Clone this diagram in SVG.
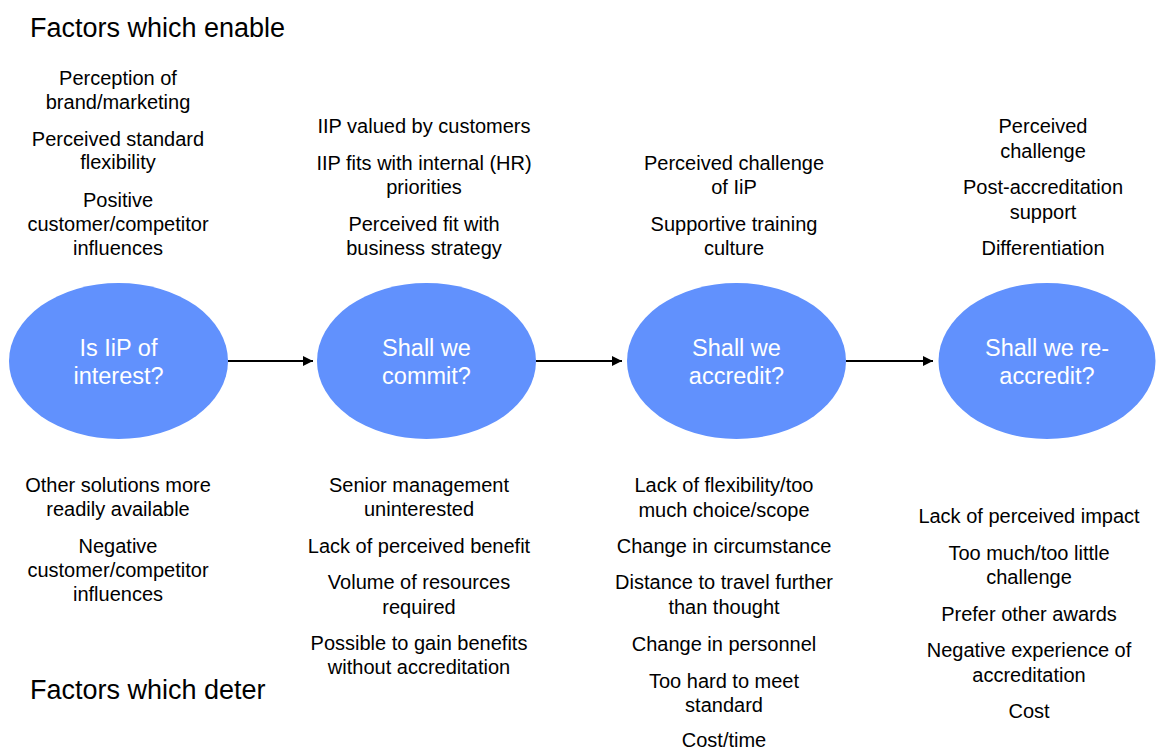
<svg xmlns="http://www.w3.org/2000/svg" width="1156" height="749" viewBox="0 0 1156 749">
<defs>
<style>
.t{font-family:"Liberation Sans",Arial,sans-serif;font-size:20px;fill:#000;text-anchor:middle}
.h{font-family:"Liberation Sans",Arial,sans-serif;font-size:27px;fill:#000}
.n{font-family:"Liberation Sans",Arial,sans-serif;font-size:23.5px;fill:#fff;text-anchor:middle}
.e{fill:#6191FD}
.c{stroke:#000;stroke-width:2;fill:none;marker-end:url(#ah)}
</style>
<marker id="ah" viewBox="0 0 10 10" refX="10" refY="5" markerWidth="5" markerHeight="5" orient="auto" markerUnits="strokeWidth">
<path d="M0,0 L10,5 L0,10 Z" fill="#000"/>
</marker>
</defs>
<rect width="1156" height="749" fill="#fff"/>
<text class="h" x="30" y="37">Factors which enable</text>
<text class="h" x="30" y="699">Factors which deter</text>

<g id="connectors">
<line class="c" x1="228" y1="361" x2="313" y2="361"/>
<line class="c" x1="536" y1="361" x2="622" y2="361"/>
<line class="c" x1="846" y1="361" x2="933" y2="361"/>
</g>

<g id="n1"><ellipse class="e" cx="118.5" cy="361" rx="109.5" ry="78"/>
<text class="n" x="118.5" y="356">Is IiP of</text><text class="n" x="118.5" y="384">interest?</text></g>
<g id="n2"><ellipse class="e" cx="426.5" cy="361" rx="109.5" ry="78"/>
<text class="n" x="426.5" y="356">Shall we</text><text class="n" x="426.5" y="384">commit?</text></g>
<g id="n3"><ellipse class="e" cx="736.5" cy="361" rx="109.5" ry="78"/>
<text class="n" x="736.5" y="356">Shall we</text><text class="n" x="736.5" y="384">accredit?</text></g>
<g id="n4"><ellipse class="e" cx="1047" cy="361" rx="108.5" ry="78"/>
<text class="n" x="1047" y="356">Shall we re-</text><text class="n" x="1047" y="384">accredit?</text></g>

<g id="enable1">
<text class="t" x="118" y="85">Perception of</text>
<text class="t" x="118" y="109">brand/marketing</text>
<text class="t" x="118" y="146">Perceived standard</text>
<text class="t" x="118" y="169">flexibility</text>
<text class="t" x="118" y="207">Positive</text>
<text class="t" x="118" y="231">customer/competitor</text>
<text class="t" x="118" y="255">influences</text>
</g>
<g id="enable2">
<text class="t" x="424" y="133">IIP valued by customers</text>
<text class="t" x="424" y="170">IIP fits with internal (HR)</text>
<text class="t" x="424" y="194">priorities</text>
<text class="t" x="424" y="231">Perceived fit with</text>
<text class="t" x="424" y="255">business strategy</text>
</g>
<g id="enable3">
<text class="t" x="734" y="170">Perceived challenge</text>
<text class="t" x="734" y="194">of IiP</text>
<text class="t" x="734" y="231">Supportive training</text>
<text class="t" x="734" y="255">culture</text>
</g>
<g id="enable4">
<text class="t" x="1043" y="133">Perceived</text>
<text class="t" x="1043" y="158">challenge</text>
<text class="t" x="1043" y="194">Post-accreditation</text>
<text class="t" x="1043" y="219">support</text>
<text class="t" x="1043" y="255">Differentiation</text>
</g>

<g id="deter1">
<text class="t" x="118" y="492">Other solutions more</text>
<text class="t" x="118" y="516">readily available</text>
<text class="t" x="118" y="553">Negative</text>
<text class="t" x="118" y="577">customer/competitor</text>
<text class="t" x="118" y="601">influences</text>
</g>
<g id="deter2">
<text class="t" x="419" y="492">Senior management</text>
<text class="t" x="419" y="516">uninterested</text>
<text class="t" x="419" y="553">Lack of perceived benefit</text>
<text class="t" x="419" y="589">Volume of resources</text>
<text class="t" x="419" y="614">required</text>
<text class="t" x="419" y="650">Possible to gain benefits</text>
<text class="t" x="419" y="674">without accreditation</text>
</g>
<g id="deter3">
<text class="t" x="724" y="492">Lack of flexibility/too</text>
<text class="t" x="724" y="517">much choice/scope</text>
<text class="t" x="724" y="553">Change in circumstance</text>
<text class="t" x="724" y="589">Distance to travel further</text>
<text class="t" x="724" y="614">than thought</text>
<text class="t" x="724" y="651">Change in personnel</text>
<text class="t" x="724" y="688">Too hard to meet</text>
<text class="t" x="724" y="712">standard</text>
<text class="t" x="724" y="747">Cost/time</text>
</g>
<g id="deter4">
<text class="t" x="1029" y="523">Lack of perceived impact</text>
<text class="t" x="1029" y="560">Too much/too little</text>
<text class="t" x="1029" y="584">challenge</text>
<text class="t" x="1029" y="621">Prefer other awards</text>
<text class="t" x="1029" y="657">Negative experience of</text>
<text class="t" x="1029" y="682">accreditation</text>
<text class="t" x="1029" y="718">Cost</text>
</g>
</svg>
